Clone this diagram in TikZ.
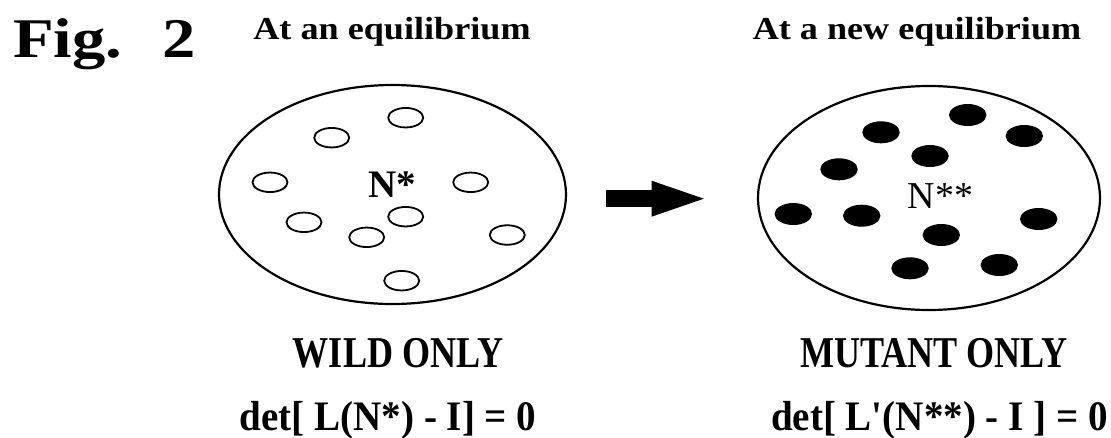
\documentclass[tikz,border=0pt]{standalone}
\usepackage{graphicx}
\usepackage{fontspec}
\setmainfont{Liberation Serif}
\usetikzlibrary{shapes.geometric,arrows.meta}
\begin{document}
\begin{tikzpicture}[x=1pt,y=-1pt,
  pop/.style={draw, ellipse, line width=2.2pt, inner sep=0pt},
  wild/.style={draw, ellipse, line width=1.8pt, inner sep=0pt, minimum width=35pt, minimum height=19.5pt},
  mut/.style={fill, ellipse, inner sep=0pt, minimum width=37.5pt, minimum height=22pt},
  txt/.style={inner sep=0pt, anchor=base},
  bigarrow/.style={line width=17.3pt, -{Triangle[length=60pt,width=30pt]}}
]
\useasboundingbox (0,0) rectangle (1111,437);

% title and headers
\node[txt, anchor=base west] (fig) at (13,57) {\scalebox{1.19}[1]{\fontsize{56}{56}\selectfont\bfseries Fig.\hspace{0.6em}2}};
\node[txt] (h1) at (392,39) {\scalebox{1.13}[1]{\fontsize{32}{32}\selectfont\bfseries At an equilibrium}};
\node[txt] (h2) at (917,39) {\scalebox{1.13}[1]{\fontsize{32}{32}\selectfont\bfseries At a new equilibrium}};

% populations
\node[pop, minimum width=347pt, minimum height=219pt] (P1) at (392.5,194.5) {};
\node[pop, minimum width=342pt, minimum height=224pt] (P2) at (929,198) {};

\node[txt] (n1) at (392.5,197) {\fontsize{39}{39}\selectfont\bfseries N*};
\node[txt] (n2) at (940.5,208) {\fontsize{38}{38}\selectfont N**};

% wild individuals
\node[wild] (w1) at (405.7,117.7) {};
\node[wild] (w2) at (331.7,137.7) {};
\node[wild] (w3) at (270,182.3) {};
\node[wild] (w4) at (470.7,182.3) {};
\node[wild] (w5) at (405.7,216.7) {};
\node[wild] (w6) at (304,222.3) {};
\node[wild] (w7) at (366.7,237.3) {};
\node[wild] (w8) at (507.3,235) {};
\node[wild] (w9) at (401.7,280.7) {};

% mutant individuals
\node[mut] (m1) at (967.7,115) {};
\node[mut] (m2) at (881,132.3) {};
\node[mut] (m3) at (1024.3,136) {};
\node[mut] (m4) at (930,156) {};
\node[mut] (m5) at (839,169.3) {};
\node[mut] (m6) at (793.3,214) {};
\node[mut] (m7) at (861.7,215.7) {};
\node[mut] (m8) at (1038.7,219) {};
\node[mut] (m9) at (941.3,235) {};
\node[mut] (m10) at (910,268.3) {};
\node[mut] (m11) at (999.3,265) {};

% arrow
\coordinate (as) at (605.7,198.7);
\coordinate (ae) at (711.7,198.7);
\draw[bigarrow] (as) -- (ae);

% labels
\node[txt] (l1) at (398,367) {\scalebox{0.82}[1]{\fontsize{44}{44}\selectfont\bfseries WILD ONLY}};
\node[txt] (l2) at (934,367) {\scalebox{0.82}[1]{\fontsize{44}{44}\selectfont\bfseries MUTANT ONLY}};
\node[txt] (e1) at (388,430) {\scalebox{0.93}[1]{\fontsize{42}{42}\selectfont\bfseries det[ L(N*) - I] = 0}};
\node[txt] (e2) at (939.5,430) {\scalebox{0.93}[1]{\fontsize{42}{42}\selectfont\bfseries det[ L\textquotesingle(N**) - I ] = 0}};
\end{tikzpicture}
\end{document}
